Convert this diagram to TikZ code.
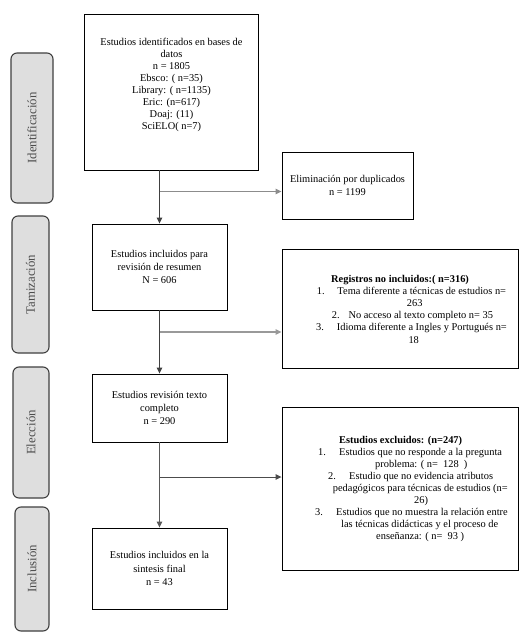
\documentclass[tikz,border=0pt]{standalone}
\usepackage{fontspec}
\setmainfont{Liberation Serif}
\usetikzlibrary{arrows.meta}
\newcommand{\Ind}[2]{\hspace*{#1pt}#2}
\newcommand{\NumL}[4]{\hspace*{#1pt}\makebox[#2pt][l]{#3}#4}
\begin{document}
\begin{tikzpicture}[x=1pt,y=-1pt,
  box/.style={draw=black, line width=0.9pt, inner sep=0pt, align=center,
    font=\fontsize{10.4}{13.3}\selectfont},
  emptybox/.style={draw=black, line width=0.9pt, inner sep=0pt},
  tabbox/.style={draw=black!75, fill=black!13, line width=1.1pt, rounded corners=6pt,
    inner sep=0pt, rotate=90, text=black!70, font=\fontsize{12.8}{14}\selectfont},
  txtc/.style={inner sep=0pt, align=center},
  txtl/.style={inner sep=0pt, align=left, anchor=west},
  vline/.style={line width=0.9pt, draw=black!75, -{Triangle[length=6pt,width=5.5pt]}},
  hline/.style={line width=1.4pt, draw=black!45, -{Triangle[length=6pt,width=5.5pt]}},
]
\useasboundingbox[fill=white] (0,0) rectangle (528,637);

% phase tabs
\node[tabbox, minimum width=150, minimum height=42] (t1) at (32,128) {Identificación};
\node[tabbox, minimum width=137, minimum height=37] (t2) at (30.5,284.5) {Tamización};
\node[tabbox, minimum width=131, minimum height=36] (t3) at (31,432.5) {Elección};
\node[tabbox, minimum width=124, minimum height=34] (t4) at (32,569) {Inclusión};

% main boxes
\node[emptybox, minimum width=174, minimum height=156] (b1) at (171,92) {};
\node[txtc, font=\fontsize{10.4}{12}\selectfont] (b1t) at (171.5,84.5)
  {Estudios identificados en bases de\\ datos\\ n = 1805\\ Ebsco: ( n=35)\\
   Library: ( n=1135)\\ Eric: (n=617)\\ Doaj: (11)\\ SciELO( n=7)};

\node[box, minimum width=135, minimum height=86] (b2) at (159.5,267)
  {Estudios incluidos para\\ revisión de resumen\\ N = 606};
\node[box, minimum width=135, minimum height=68] (b3) at (159.5,408)
  {Estudios revisión texto\\ completo\\ n = 290};
\node[box, minimum width=135, minimum height=81] (b4) at (159.5,568.5)
  {Estudios incluidos en la\\ sintesis final\\ n = 43};

% side boxes
\node[box, minimum width=131, minimum height=67] (dup) at (347.5,185.5)
  {Eliminación por duplicados\\ n = 1199};

\node[emptybox, minimum width=236, minimum height=119] (reg) at (400,308.5) {};
\node[txtl, font=\fontsize{10.4}{12.2}\selectfont] (regt) at (316,309)
  {\Ind{15}{\textbf{Registros no incluidos:( n=316)}}\\
   \NumL{0.7}{20.6}{1.}{Tema diferente a técnicas de estudios n=}\\
   \Ind{90.7}{263}\\
   \NumL{15.7}{16.6}{2.}{No acceso al texto completo n= 35}\\
   \NumL{0}{20.7}{3.}{Idioma diferente a Ingles y Portugués n=}\\
   \Ind{92.3}{18}};

\node[emptybox, minimum width=236, minimum height=163] (exc) at (400,488.5) {};
\node[txtl, font=\fontsize{10.4}{12}\selectfont] (exct) at (315,489)
  {\Ind{24}{\textbf{Estudios excluidos: (n=247)}}\\
   \NumL{3}{21}{1.}{Estudios que no responde a la pregunta}\\
   \Ind{60}{problema: ( n=\ \ 128\ \ )}\\
   \NumL{13}{21}{2.}{Estudio que no evidencia atributos}\\
   \Ind{17.7}{pedagógicos para técnicas de estudios (n=}\\
   \Ind{99}{26)}\\
   \NumL{0}{21}{3.}{Estudios que no muestra la relación entre}\\
   \Ind{26}{las técnicas didácticas y el proceso de}\\
   \Ind{61}{enseñanza: ( n=\ \ 93 )}};

% connectors
\coordinate (j1) at (160,191.5);
\coordinate (j2) at (160,332);
\coordinate (j3) at (160,477);
\draw[vline] (b2.north |- b1.south) -- (b2.north);
\draw[vline] (b2.south) -- (b3.north);
\draw[vline, draw=black!65] (b3.south) -- (b4.north);
\draw[hline] (j1) -- (j1 -| dup.west);
\draw[hline, line width=1.2pt, draw=black!40] (j2) -- (j2 -| reg.west);
\draw[hline, line width=0.9pt, draw=black!70] (j3) -- (j3 -| exc.west);
\end{tikzpicture}
\end{document}
